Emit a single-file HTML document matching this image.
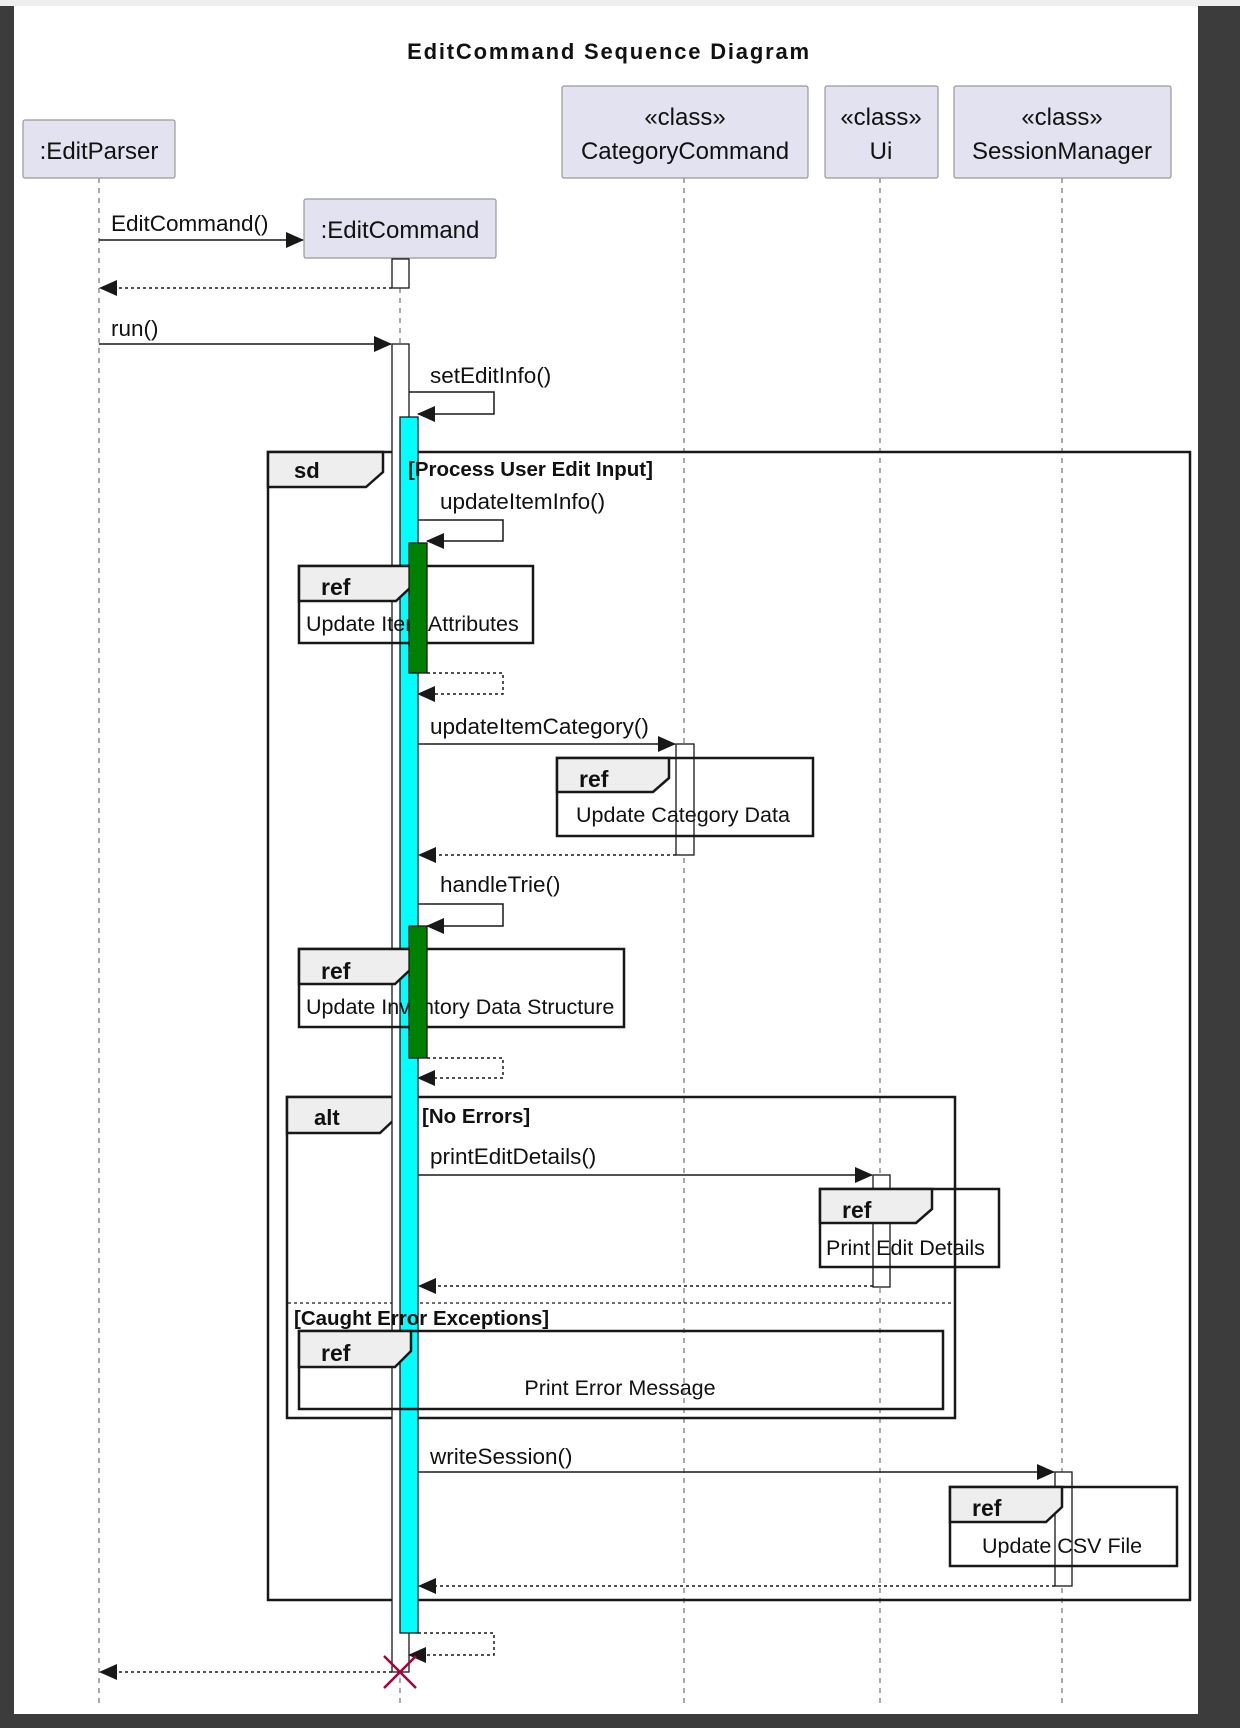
<!DOCTYPE html>
<html><head><meta charset="utf-8"><style>
html,body{margin:0;padding:0;background:#3c3c3c;}
svg{display:block;}
text{font-family:"Liberation Sans",sans-serif;fill:#111;}
</style></head><body>
<svg width="1240" height="1728" viewBox="0 0 1240 1728" xmlns="http://www.w3.org/2000/svg">
<rect x="0" y="0" width="1240" height="1728" fill="#3c3c3c"/>
<rect x="0" y="0" width="1240" height="6" fill="#efefef"/>
<rect x="14" y="6" width="1184" height="1708" fill="#ffffff"/>
<defs>
<marker id="ah" markerWidth="18" markerHeight="16" refX="17" refY="8" orient="auto" markerUnits="userSpaceOnUse"><path d="M0,0 L18,8 L0,16 z" fill="#181818"/></marker>
</defs>
<text x="609" y="59" text-anchor="middle" font-weight="bold" font-size="22" letter-spacing="1.8">EditCommand Sequence Diagram</text>
<g stroke="#555" stroke-width="1" stroke-dasharray="5,5">
<line x1="99" y1="178" x2="99" y2="1703"/>
<line x1="400" y1="258" x2="400" y2="1703"/>
<line x1="684" y1="178" x2="684" y2="1703"/>
<line x1="880" y1="178" x2="880" y2="1703"/>
<line x1="1062" y1="178" x2="1062" y2="1703"/>
</g>
<g fill="#e2e2f0" stroke="#999" stroke-width="1.2">
<rect x="23" y="120" width="152" height="58" rx="2"/>
<rect x="562" y="86" width="246" height="92" rx="2"/>
<rect x="825" y="86" width="113" height="92" rx="2"/>
<rect x="954" y="86" width="217" height="92" rx="2"/>
<rect x="304" y="199" width="192" height="59" rx="2"/>
</g>
<g font-size="24" text-anchor="middle">
<text x="99" y="159">:EditParser</text>
<text x="685" y="125">«class»</text><text x="685" y="159">CategoryCommand</text>
<text x="881" y="125">«class»</text><text x="881" y="159">Ui</text>
<text x="1062" y="125">«class»</text><text x="1062" y="159">SessionManager</text>
<text x="400" y="238">:EditCommand</text>
</g>
<g fill="none" stroke="#181818" stroke-width="2.5">
<rect x="268" y="452" width="922" height="1148"/>
<rect x="287" y="1097" width="668" height="321"/>
</g>
<line x1="288" y1="1303" x2="954" y2="1303" stroke="#181818" stroke-width="1.2" stroke-dasharray="3,3"/>
<path d="M268,452 L383,452 L383,472 L366,487 L268,487 z" fill="#eee" stroke="#181818" stroke-width="2.5"/>
<text x="294" y="478" font-weight="bold" font-size="22">sd</text>
<path d="M287,1097 L397,1097 L397,1117 L380,1133 L287,1133 z" fill="#eee" stroke="#181818" stroke-width="2.5"/>
<text x="314" y="1125" font-weight="bold" font-size="22">alt</text>
<g stroke="#181818" stroke-width="1.3">
<rect x="392" y="259" width="17" height="29" fill="#fff"/>
<rect x="392" y="344" width="17" height="1328" fill="#fff"/>
<rect x="400" y="417" width="18" height="1216" fill="#00ffff"/>
<rect x="676" y="744" width="18" height="111" fill="#fff"/>
<rect x="873" y="1175" width="17" height="112" fill="#fff"/>
<rect x="1055" y="1472" width="17" height="114" fill="#fff"/>
</g>
<g font-weight="bold" font-size="20.5">
<text x="408" y="476">[Process User Edit Input]</text>
<text x="422" y="1123">[No Errors]</text>
<text x="294" y="1325">[Caught Error Exceptions]</text>
</g>
<g fill="none" stroke="#181818" stroke-width="2.5">
<rect x="299" y="566" width="234" height="77"/>
<rect x="557" y="758" width="256" height="78"/>
<rect x="299" y="949" width="325" height="78"/>
<rect x="820" y="1189" width="179" height="78"/>
<rect x="299" y="1331" width="644" height="78"/>
<rect x="950" y="1487" width="227" height="79"/>
</g>
<g fill="#eee" stroke="#181818" stroke-width="2.5">
<path d="M299,566 L412,566 L412,586 L396,601 L299,601 z"/>
<path d="M557,758 L669,758 L669,778 L653,792 L557,792 z"/>
<path d="M299,949 L411,949 L411,969 L395,984 L299,984 z"/>
<path d="M820,1189 L932,1189 L932,1209 L916,1223 L820,1223 z"/>
<path d="M299,1331 L411,1331 L411,1351 L395,1367 L299,1367 z"/>
<path d="M950,1487 L1062,1487 L1062,1507 L1046,1522 L950,1522 z"/>
</g>
<g font-weight="bold" font-size="23">
<text x="321" y="595">ref</text>
<text x="579" y="787">ref</text>
<text x="321" y="979">ref</text>
<text x="842" y="1218">ref</text>
<text x="321" y="1361">ref</text>
<text x="972" y="1516">ref</text>
</g>
<g font-size="21.5">
<text x="306" y="631">Update Item Attributes</text>
<text x="576" y="822">Update Category Data</text>
<text x="306" y="1014">Update Inventory Data Structure</text>
<text x="826" y="1255">Print Edit Details</text>
<text x="620" y="1395" text-anchor="middle">Print Error Message</text>
<text x="982" y="1553">Update CSV File</text>
</g>
<g stroke="#181818" stroke-width="1.3" fill="#008000">
<rect x="409" y="543" width="18" height="130"/>
<rect x="409" y="926" width="18" height="132"/>
</g>
<g stroke="#181818" stroke-width="1.5" fill="none">
<line x1="99" y1="240" x2="303" y2="240" marker-end="url(#ah)"/>
<line x1="392" y1="288" x2="100" y2="288" stroke-dasharray="3,3" marker-end="url(#ah)"/>
<line x1="99" y1="344" x2="391" y2="344" marker-end="url(#ah)"/>
<polyline points="409,392 494,392 494,414 418,414" marker-end="url(#ah)"/>
<polyline points="418,520 503,520 503,541 427,541" marker-end="url(#ah)"/>
<polyline points="427,673 503,673 503,694 418,694" stroke-dasharray="3,3" marker-end="url(#ah)"/>
<line x1="418" y1="744" x2="675" y2="744" marker-end="url(#ah)"/>
<line x1="676" y1="855" x2="419" y2="855" stroke-dasharray="3,3" marker-end="url(#ah)"/>
<polyline points="418,904 503,904 503,926 427,926" marker-end="url(#ah)"/>
<polyline points="427,1058 503,1058 503,1078 418,1078" stroke-dasharray="3,3" marker-end="url(#ah)"/>
<line x1="418" y1="1175" x2="872" y2="1175" marker-end="url(#ah)"/>
<line x1="873" y1="1286" x2="419" y2="1286" stroke-dasharray="3,3" marker-end="url(#ah)"/>
<line x1="418" y1="1472" x2="1054" y2="1472" marker-end="url(#ah)"/>
<line x1="1055" y1="1586" x2="419" y2="1586" stroke-dasharray="3,3" marker-end="url(#ah)"/>
<polyline points="418,1633 494,1633 494,1655 409,1655" stroke-dasharray="3,3" marker-end="url(#ah)"/>
<line x1="392" y1="1672" x2="100" y2="1672" stroke-dasharray="3,3" marker-end="url(#ah)"/>
</g>
<g font-size="22.5">
<text x="111" y="231">EditCommand()</text>
<text x="111" y="336">run()</text>
<text x="430" y="383">setEditInfo()</text>
<text x="440" y="509">updateItemInfo()</text>
<text x="430" y="734">updateItemCategory()</text>
<text x="440" y="892">handleTrie()</text>
<text x="430" y="1164">printEditDetails()</text>
<text x="430" y="1464">writeSession()</text>
</g>
<g stroke="#a80036" stroke-width="2.5">
<line x1="384" y1="1656" x2="416" y2="1688"/>
<line x1="416" y1="1656" x2="384" y2="1688"/>
</g>
</svg>
</body></html>
